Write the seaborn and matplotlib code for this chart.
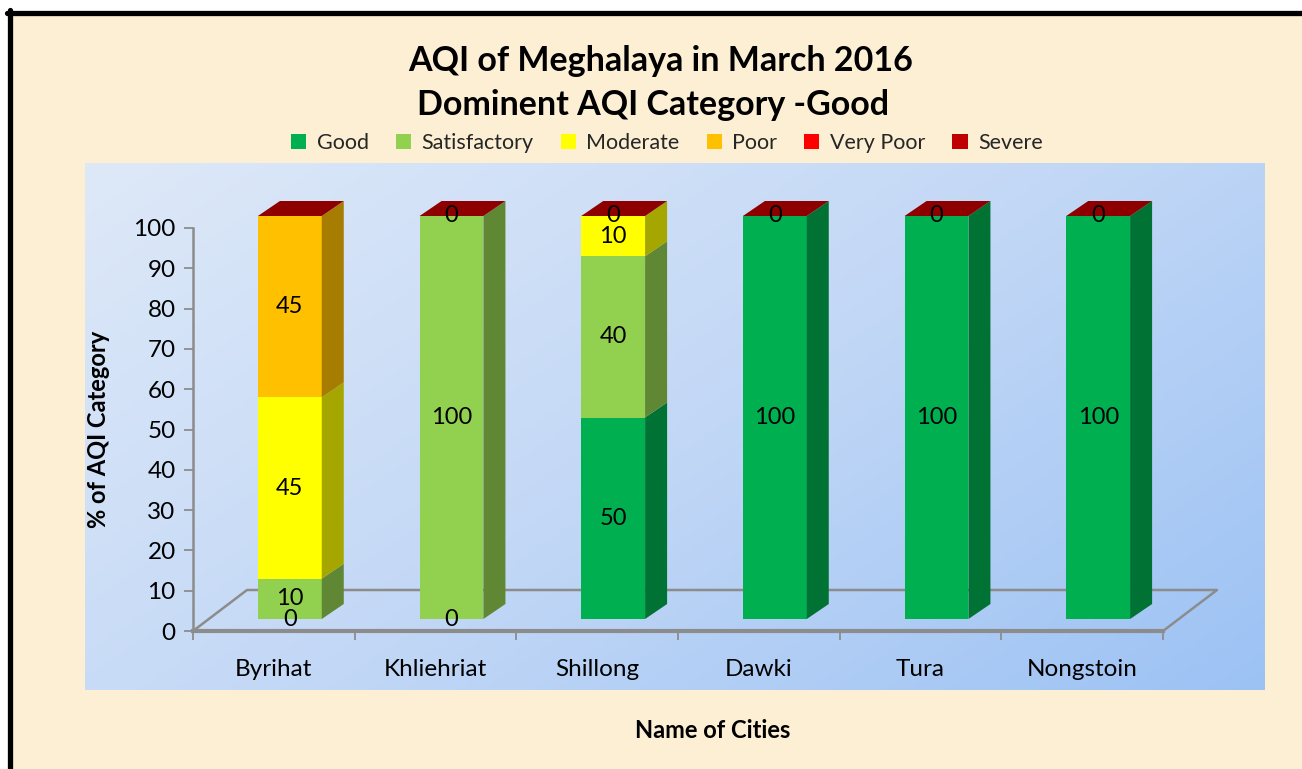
import numpy as np
import seaborn as sns
import matplotlib.pyplot as plt
import matplotlib.transforms as mtransforms
from matplotlib.patches import Polygon, Rectangle
from matplotlib.lines import Line2D
from matplotlib.colors import LinearSegmentedColormap, to_rgb

# ---- data ----
cities = ["Byrihat", "Khliehriat", "Shillong", "Dawki", "Tura", "Nongstoin"]
categories = ["Good", "Satisfactory", "Moderate", "Poor", "Very Poor", "Severe"]
good = [0, 0, 50, 100, 100, 100]
satisfactory = [10, 100, 40, np.nan, np.nan, np.nan]
moderate = [45, np.nan, 10, np.nan, np.nan, np.nan]
poor = [45, np.nan, np.nan, np.nan, np.nan, np.nan]
very_poor = [np.nan, np.nan, np.nan, np.nan, np.nan, np.nan]
severe = [np.nan, 0, 0, 0, 0, 0]
yticks = list(range(0, 101, 10))

colors = {"Good": "#00B050", "Satisfactory": "#92D050", "Moderate": "#FFFF00",
          "Poor": "#FFC000", "Very Poor": "#FF0000", "Severe": "#C00000"}
top_color = "#8E0000"
gray = "#8C8C8C"

layers = [good, satisfactory, moderate, poor, very_poor, severe]
vals = np.array(layers, dtype=float)
cum = np.cumsum(np.nan_to_num(vals), axis=0)

sns.set_theme(style="white")
plt.rcParams['font.family'] = ['Lato', 'DejaVu Sans']

W, H = 1302, 769
fig = plt.figure(figsize=(W / 100, H / 100), dpi=100, facecolor="white")

# cream background and black frame
fig.patches.append(Rectangle((10 / W, 0), 1, 1 - 12 / H, transform=fig.transFigure,
                             facecolor="#FCEFD3", edgecolor="none", zorder=-10))
fig.add_artist(Line2D([7 / W, 1], [1 - 12.5 / H, 1 - 12.5 / H], color="black", lw=3.8))
fig.add_artist(Line2D([10 / W, 10 / W], [0, 1 - 10 / H], color="black", lw=3.8))

# blue gradient plot area
bg = fig.add_axes([85 / W, 1 - 690 / H, 1180 / W, 527 / H])
gx, gy = np.meshgrid(np.linspace(0, 1, 200), np.linspace(0, 1, 200))
cmap = LinearSegmentedColormap.from_list("bluegrad", ["#DEE9F8", "#C3D8F6", "#9CC2F4"])
bg.imshow((gx * 0.6 + gy * 0.4), extent=[0, 1, 0, 1], aspect="auto", cmap=cmap, origin="upper")
bg.axis("off")

ax = fig.add_axes([193 / W, 1 - 631 / H, 970 / W, 403 / H])
ax.patch.set_alpha(0)

shift = mtransforms.ScaledTranslation(0.16, 0.12, fig.dpi_scale_trans)
bar_w = 0.395

# stacked bars: draw cumulative totals from the top layer down
front = {}
for i in reversed(range(len(categories))):
    n0 = len(ax.patches)
    sns.barplot(x=cities, y=cum[i], order=cities, color=colors[categories[i]],
                saturation=1, width=bar_w, errorbar=None, linewidth=0, ax=ax)
    front[i] = ax.patches[n0:]
    for p in front[i]:
        p.set_transform(ax.transData + shift)
        p.set_zorder(3)
        p.set_clip_on(False)

ax.set_xlim(-0.5, len(cities) - 0.5)
ax.set_ylim(0, 100)

# pixel -> data scale for 3D depth
(x0p, y0p), (x1p, y1p) = ax.transData.transform([(0, 0), (1, 1)])
sx, sy = x1p - x0p, y1p - y0p
ddx, ddy = 22 / sx, 15 / sy


def darker(c, f=0.65):
    r, g, b = to_rgb(c)
    return (r * f, g * f, b * f)


# side faces and top faces
for j, p in enumerate(front[0]):
    xl = p.get_x()
    xr = xl + p.get_width()
    for i in range(len(categories)):
        v = vals[i, j]
        if np.isnan(v) or v <= 0:
            continue
        b = cum[i, j] - v
        t = cum[i, j]
        side = Polygon([(xr, b), (xr, t), (xr + ddx, t + ddy), (xr + ddx, b + ddy)],
                       closed=True, facecolor=darker(colors[categories[i]]),
                       edgecolor="none", zorder=3, clip_on=False)
        side.set_transform(ax.transData + shift)
        ax.add_patch(side)
    T = cum[-1, j]
    top = Polygon([(xl, T), (xr, T), (xr + ddx, T + ddy), (xl + ddx, T + ddy)],
                  closed=True, facecolor=top_color, edgecolor="none", zorder=3, clip_on=False)
    top.set_transform(ax.transData + shift)
    ax.add_patch(top)

    # value labels
    for i in range(len(categories)):
        v = vals[i, j]
        if np.isnan(v):
            continue
        ax.text(xl + p.get_width() / 2, cum[i, j] - v / 2, f"{int(v)}",
                ha="center", va="center", fontsize=17, color="black",
                transform=ax.transData + shift, zorder=5, clip_on=False)

# floor
fx, fy = 54 / sx, 41 / sy
xa, xb = -0.5, len(cities) - 0.5
ax.add_line(Line2D([xa, xa + fx, xb + fx, xb], [0, fy, fy, 0], color=gray, lw=1.8,
                   zorder=1, clip_on=False))

# axes styling
for s in ["top", "right"]:
    ax.spines[s].set_visible(False)
ax.spines["left"].set_color(gray)
ax.spines["left"].set_linewidth(1.8)
ax.spines["bottom"].set_color(gray)
ax.spines["bottom"].set_linewidth(3)
ax.spines["bottom"].set_zorder(2)

ax.set_yticks(yticks)
ax.set_yticklabels([str(t) for t in yticks])
ax.tick_params(axis="y", which="major", direction="out", length=6.5, width=1.3,
               color=gray, pad=6, labelsize=17.5, labelcolor="black", left=True)
ax.set_xticks(range(len(cities)))
ax.set_xticklabels(cities)
ax.set_xticks(np.arange(-0.5, len(cities)), minor=True)
ax.tick_params(axis="x", which="major", length=0, pad=20, labelsize=17.5, labelcolor="black")
ax.tick_params(axis="x", which="minor", direction="out", length=6.5, width=1.3,
               color=gray, bottom=True)

ax.set_xlabel("")
ax.set_ylabel("% of AQI Category", fontsize=17, fontweight="bold", color="black")
ax.yaxis.set_label_coords(-0.086, 0.5)

# titles and axis title
fig.text(661 / W, 1 - 61 / H, "AQI of Meghalaya in March 2016", ha="center", va="center",
         fontsize=24.5, fontweight="bold", color="black")
fig.text(653 / W, 1 - 105 / H, "Dominent AQI Category -Good", ha="center", va="center",
         fontsize=24.5, fontweight="bold", color="black")
fig.text(713 / W, 1 - 730 / H, "Name of Cities", ha="center", va="center",
         fontsize=17, fontweight="bold", color="black")

# legend
handles = [Rectangle((0, 0), 1, 1, facecolor=colors[c], edgecolor="none") for c in categories]
fig.legend(handles, categories, loc="center", bbox_to_anchor=(667 / W, 1 - 143 / H),
           ncol=6, frameon=False, fontsize=15.5, handlelength=0.7, handleheight=0.7,
           handletextpad=0.5, columnspacing=1.25, borderaxespad=0)

fig.savefig("out.png", dpi=100, facecolor=fig.get_facecolor())
